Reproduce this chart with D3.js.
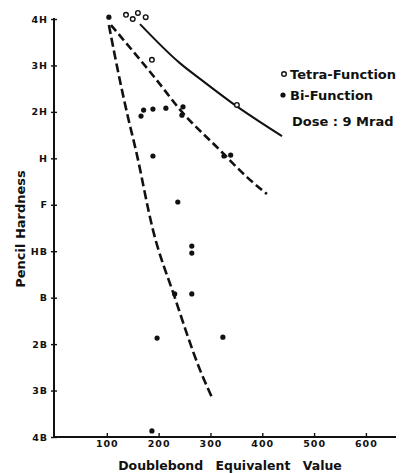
<!DOCTYPE html>
<html>
<head>
<meta charset="utf-8">
<script src="https://cdn.jsdelivr.net/npm/d3@7"></script>
<style>
  body { margin: 0; background: #fff; }
  svg text { font-family: "DejaVu Sans", sans-serif; font-weight: bold; fill: #111; }
</style>
</head>
<body>
<div id="chart"></div>
<script>
// hardness grades, bottom to top (index = value on the y scale)
const grades = ['4B', '3B', '2B', 'B', 'HB', 'F', 'H', '2H', '3H', '4H'];
const xTicks = [100, 200, 300, 400, 500, 600];

// Tetra-Function (open circles)
const tetraX = [137, 150, 160, 175, 187, 351];
const tetraY = [9.09, 9.0, 9.13, 9.04, 8.12, 7.15];

// Bi-Function (filled circles)
const biX = [104, 166, 171, 189, 214, 247, 245, 326, 339, 189, 237, 264, 264, 231, 264, 197, 324, 187];
const biY = [9.04, 6.91, 7.04, 7.06, 7.08, 7.11, 6.93, 6.05, 6.07, 6.05, 5.06, 4.11, 3.96, 3.08, 3.08, 2.13, 2.15, 0.13];

// hand drawn trend curves
const tetraFitX = [164, 241, 280, 342, 438];
const tetraFitY = [8.89, 8.05, 7.71, 7.19, 6.48];
const biUpperX = [108, 193, 245, 318, 372, 409];
const biUpperY = [8.87, 7.73, 7.0, 6.18, 5.58, 5.23];
const biLowerX = [104, 125, 142, 156, 189, 231, 280, 305];
const biLowerY = [8.87, 7.69, 6.83, 6.18, 4.46, 3.01, 1.44, 0.80];

const w = 404, h = 473;

const svg = d3.select('#chart').append('svg')
    .attr('width', w).attr('height', h);

const x = d3.scaleLinear().domain([0, 660]).range([55, 397]);
const y = d3.scaleLinear().domain([0, 9]).range([437, 19]);

// axes
const xAxis = d3.axisBottom(x).tickValues(xTicks).tickSize(-4).tickPadding(3);
const gx = svg.append('g').attr('transform', `translate(0,${y(0)})`).call(xAxis);
gx.select('.domain').remove();
gx.selectAll('.tick line').attr('stroke', '#111').attr('stroke-width', 1.4);
gx.selectAll('.tick text').style('font-size', '9.5px').style('letter-spacing', '1px')
    .attr('fill', '#111');

const yAxis = d3.axisLeft(y).tickValues(d3.range(10)).tickFormat(i => grades[i])
    .tickSize(3).tickPadding(3);
const gy = svg.append('g').attr('transform', `translate(54,0)`).call(yAxis);
gy.select('.domain').remove();
gy.selectAll('.tick line').attr('stroke', '#111').attr('stroke-width', 1.4).attr('x2', 3).attr('x1', -3);
gy.selectAll('.tick text').style('font-size', '9.5px').style('letter-spacing', '1px')
    .attr('fill', '#111');

svg.append('line').attr('x1', 54).attr('x2', 54).attr('y1', y(9) - 1).attr('y2', y(0))
    .attr('stroke', '#111').attr('stroke-width', 2);
svg.append('line').attr('x1', 53).attr('x2', 396).attr('y1', y(0)).attr('y2', y(0))
    .attr('stroke', '#111').attr('stroke-width', 1.8);

// axis titles
svg.append('text')
    .attr('transform', 'translate(25,229) rotate(-90)')
    .attr('text-anchor', 'middle')
    .style('font-size', '13px')
    .text('Pencil Hardness');

svg.append('text')
    .attr('x', 230).attr('y', 470)
    .attr('text-anchor', 'middle')
    .style('font-size', '12.5px')
    .style('word-spacing', '8px')
    .text('Doublebond Equivalent Value');

// curves
const line = d3.line().x(d => x(d[0])).y(d => y(d[1])).curve(d3.curveMonotoneX);

svg.append('path').datum(d3.zip(tetraFitX, tetraFitY))
    .attr('d', line).attr('fill', 'none').attr('stroke', '#111').attr('stroke-width', 2);
svg.append('path').datum(d3.zip(biUpperX, biUpperY))
    .attr('d', line).attr('fill', 'none').attr('stroke', '#111').attr('stroke-width', 2.6)
    .attr('stroke-dasharray', '8,4');
svg.append('path').datum(d3.zip(biLowerX, biLowerY))
    .attr('d', line).attr('fill', 'none').attr('stroke', '#111').attr('stroke-width', 2.6)
    .attr('stroke-dasharray', '9,4');

// points
svg.selectAll('circle.tetra').data(d3.zip(tetraX, tetraY)).enter().append('circle')
    .attr('class', 'tetra')
    .attr('cx', d => x(d[0])).attr('cy', d => y(d[1])).attr('r', 2.3)
    .attr('fill', '#fff').attr('stroke', '#111').attr('stroke-width', 1.4);

svg.selectAll('circle.bi').data(d3.zip(biX, biY)).enter().append('circle')
    .attr('class', 'bi')
    .attr('cx', d => x(d[0])).attr('cy', d => y(d[1])).attr('r', 2.6)
    .attr('fill', '#111');

// legend
svg.append('circle').attr('cx', 284).attr('cy', 74).attr('r', 2.3)
    .attr('fill', '#fff').attr('stroke', '#111').attr('stroke-width', 1.4);
svg.append('text').attr('x', 290).attr('y', 79).style('font-size', '13px').text('Tetra-Function');
svg.append('circle').attr('cx', 283).attr('cy', 95).attr('r', 2.6).attr('fill', '#111');
svg.append('text').attr('x', 290).attr('y', 99.5).style('font-size', '13px').text('Bi-Function');
svg.append('text').attr('x', 292).attr('y', 126).style('font-size', '13px').text('Dose : 9 Mrad');
</script>
</body>
</html>
